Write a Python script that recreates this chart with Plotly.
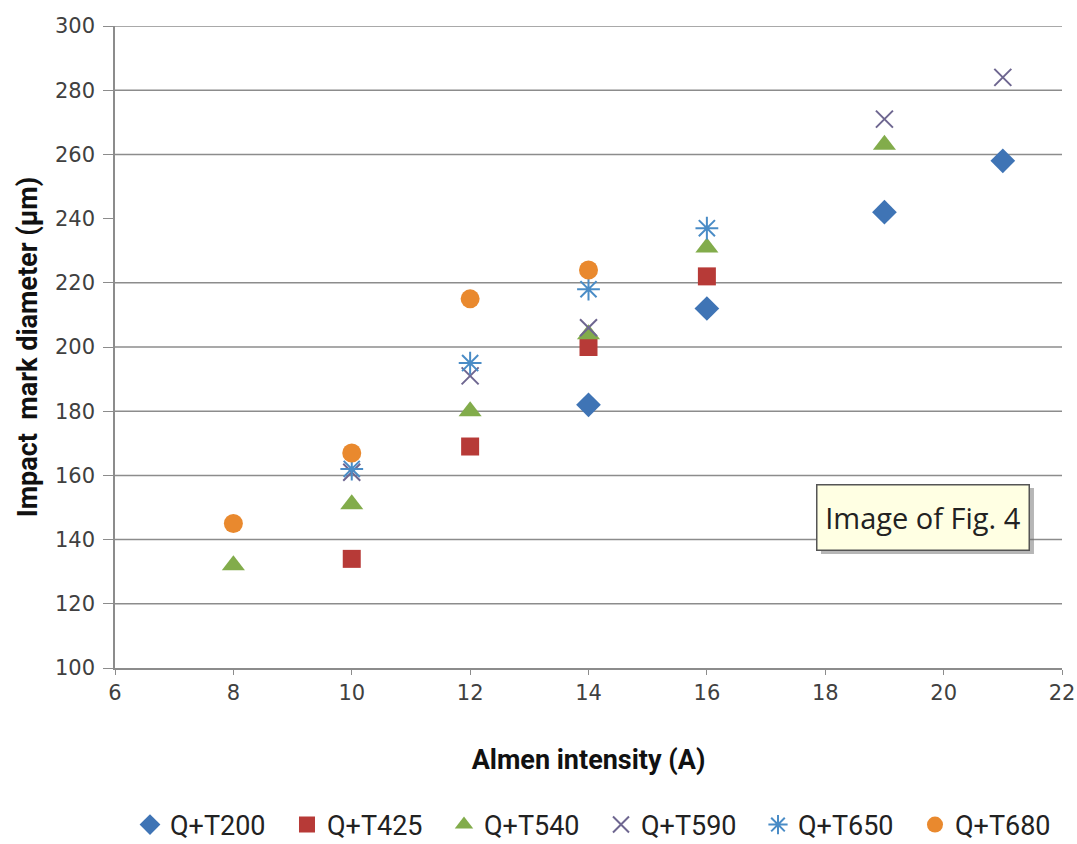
import plotly.graph_objects as go

# Impact mark diameter vs Almen intensity for each heat treatment
qt200_x = [14, 16, 19, 21]
qt200_y = [182, 212, 242, 258]

qt425_x = [10, 12, 14, 16]
qt425_y = [134, 169, 200, 222]

qt540_x = [8, 10, 12, 14, 16, 19]
qt540_y = [132, 151, 180, 204, 231, 263]

qt590_x = [10, 12, 14, 19, 21]
qt590_y = [161, 191, 206, 271, 284]

qt650_x = [10, 12, 14, 16]
qt650_y = [162, 195, 218, 237]

qt680_x = [8, 10, 12, 14]
qt680_y = [145, 167, 215, 224]

series_names = ["Q+T200", "Q+T425", "Q+T540", "Q+T590", "Q+T650", "Q+T680"]
y_ticks = [100, 120, 140, 160, 180, 200, 220, 240, 260, 280, 300]
x_ticks = [6, 8, 10, 12, 14, 16, 18, 20, 22]
grid_levels = [120, 140, 160, 180, 200, 220, 260, 280, 300]

TICK_FONT = dict(family="DejaVu Sans", size=21, color="#404040")
LABEL_FAMILY = "Roboto, Arial"

fig = go.Figure()

styles = [
    (qt200_x, qt200_y, dict(symbol="diamond", size=19, color="#3F74B5")),
    (qt425_x, qt425_y, dict(symbol="square", size=18, color="#B73A37")),
    (qt540_x, qt540_y, dict(symbol="triangle-up", size=20, color="#82AC4B")),
    (qt590_x, qt590_y, dict(symbol="x-thin", size=17, color="#6E6690",
                            line=dict(width=2, color="#6E6690"))),
    (qt650_x, qt650_y, dict(symbol="asterisk", size=19, color="#4A8CC6",
                            line=dict(width=2, color="#4A8CC6"))),
    (qt680_x, qt680_y, dict(symbol="circle", size=19, color="#E9892E")),
]

for name, (xs, ys, marker) in zip(series_names, styles):
    fig.add_trace(go.Scatter(x=xs, y=ys, mode="markers", name=name,
                             marker=marker, cliponaxis=False))

# horizontal grid lines
for g in grid_levels:
    fig.add_shape(type="line", xref="paper", x0=0, x1=1, yref="y", y0=g, y1=g,
                  line=dict(color="#8C8C8C", width=1.5), layer="below")

# callout box with drop shadow
fig.add_shape(type="rect", xref="paper", yref="paper",
              x0=0.7455, x1=0.9704, y0=0.1776, y1=0.2804,
              fillcolor="rgba(110,110,110,0.5)", line=dict(width=0))
fig.add_annotation(xref="paper", yref="paper", x=0.8537, y=0.2352,
                   xanchor="center", yanchor="middle",
                   text="Image of Fig. 4", showarrow=False,
                   font=dict(family="Open Sans, DejaVu Sans", size=29, color="#222222"),
                   bgcolor="#FFFFE3", bordercolor="#555555", borderwidth=1.5,
                   width=209, height=62, borderpad=1)

fig.update_layout(
    width=1077, height=844,
    margin=dict(l=115, r=15, t=26, b=176, autoexpand=False),
    paper_bgcolor="white", plot_bgcolor="white",
    showlegend=True,
    legend=dict(orientation="h", xref="container", x=0.1207, xanchor="left",
                yref="container", y=0.0225, yanchor="middle",
                font=dict(family=LABEL_FAMILY, size=27, color="#222222"),
                entrywidth=112, entrywidthmode="pixels", itemwidth=30,
                traceorder="normal"),
    xaxis=dict(range=[6, 22], tickvals=x_ticks, showgrid=False, zeroline=False,
               showline=True, linecolor="#8C8C8C", linewidth=1.5,
               ticks="outside", ticklen=5, tickcolor="#8C8C8C",
               tickfont=TICK_FONT,
               title=dict(text="<b>Almen intensity (A)</b>", standoff=46,
                          font=dict(family=LABEL_FAMILY, size=27, color="#111111"))),
    yaxis=dict(range=[100, 300], tickvals=y_ticks, showgrid=False, zeroline=False,
               showline=True, linecolor="#8C8C8C", linewidth=1.5,
               ticks="outside", ticklen=10, tickcolor="#8C8C8C",
               ticklabelstandoff=4,
               tickfont=TICK_FONT,
               title=dict(text="<b>Impact\u00a0 mark diameter (\u00b5m)</b>", standoff=10,
                          font=dict(family=LABEL_FAMILY, size=27, color="#111111"))),
)

fig.write_html("out.html")
